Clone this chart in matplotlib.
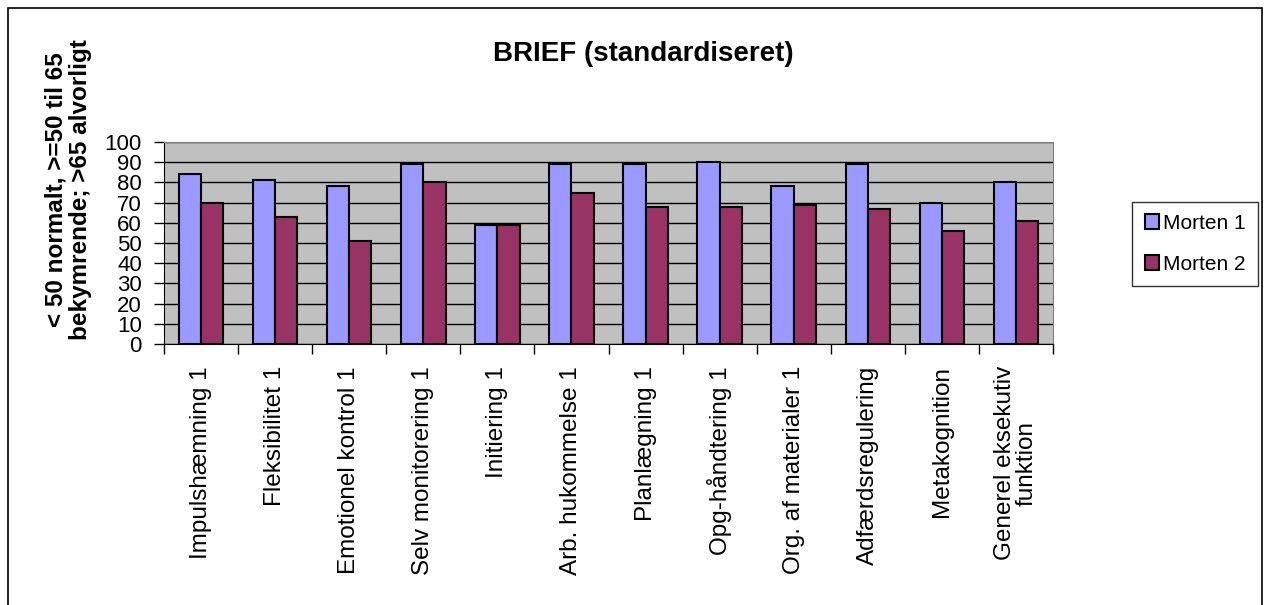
import numpy as np
import matplotlib.pyplot as plt
from matplotlib.patches import Rectangle

plt.rcParams['font.family'] = ['Liberation Sans', 'DejaVu Sans']

categories = ['Impulshæmning 1', 'Fleksibilitet 1', 'Emotionel kontrol 1',
              'Selv monitorering 1', 'Initiering 1', 'Arb. hukommelse 1',
              'Planlægning 1', 'Opg-håndtering 1', 'Org. af materialer 1',
              'Adfærdsregulering', 'Metakognition', 'Generel eksekutiv\nfunktion']
morten1 = [84, 81, 78, 89, 59, 89, 89, 90, 78, 89, 70, 80]
morten2 = [70, 63, 51, 80, 59, 75, 68, 68, 69, 67, 56, 61]
yticks = list(range(0, 101, 10))

fig = plt.figure(figsize=(12.67, 6.05), dpi=100)
ax = fig.add_axes([164 / 1267, 1 - 344 / 605, (1053 - 164) / 1267, (344 - 142) / 605])

x = np.arange(len(categories))
w = 0.3
ax.bar(x - w / 2, morten1, w, color='#9999FF', edgecolor='black', linewidth=1.5,
       label='Morten 1', zorder=3)
ax.bar(x + w / 2, morten2, w, color='#993366', edgecolor='black', linewidth=1.5,
       label='Morten 2', zorder=3)

ax.set_facecolor('#C0C0C0')
ax.set_xlim(-0.5, len(categories) - 0.5)
ax.set_ylim(0, 100)
ax.set_yticks(yticks)
ax.set_yticklabels([str(t) for t in yticks], fontsize=16)
ax.yaxis.grid(True, color='black', linewidth=1, zorder=1)
ax.set_axisbelow(True)
ax.tick_params(axis='y', direction='out', length=7, width=1, pad=9)

ax.set_xticks(x)
ax.set_xticklabels(categories, rotation=90, fontsize=17.5, va='top', ha='center',
                   multialignment='center', linespacing=1.0)
ax.tick_params(axis='x', length=0, pad=16)
ax.set_xticks(np.arange(len(categories) + 1) - 0.5, minor=True)
ax.tick_params(axis='x', which='minor', direction='out', length=7, width=1)

for side in ['top', 'right']:
    ax.spines[side].set_color('#808080')
for side in ['left', 'bottom']:
    ax.spines[side].set_color('black')

fig.text(643 / 1267, 1 - 54 / 605, 'BRIEF (standardiseret)', fontsize=20,
         fontweight='bold', ha='center', va='center')
fig.text(68 / 1267, 1 - 190 / 605,
         '< 50 normalt, >=50 til 65\nbekymrende; >65 alvorligt',
         rotation=90, fontsize=17.5, fontweight='bold', ha='center', va='center',
         multialignment='center', linespacing=1.1)

leg = fig.legend(loc='center', bbox_to_anchor=(1195 / 1267, 1 - 244 / 605),
                 fontsize=15, frameon=True, fancybox=False, edgecolor='black',
                 handlelength=0.7, handleheight=0.7, handletextpad=0.15,
                 labelspacing=1.05, borderpad=0.6, borderaxespad=0)
leg.get_frame().set_linewidth(1)

fig.patches.append(Rectangle((8 / 1267, -0.01), 1254 / 1267, 1 - 8 / 605 + 0.01,
                             transform=fig.transFigure, fill=False,
                             edgecolor='black', linewidth=1.2))

fig.savefig('out.png', dpi=100)
